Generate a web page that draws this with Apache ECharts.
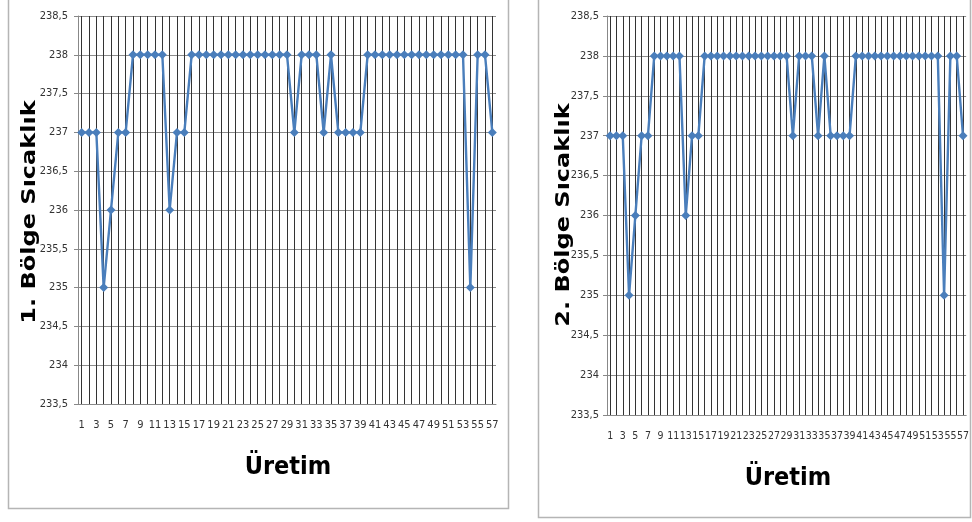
<!DOCTYPE html>
<html>
<head>
<meta charset="utf-8">
<script src="https://cdn.jsdelivr.net/npm/echarts@6/dist/echarts.min.js"></script>
<style>
html,body{margin:0;padding:0;background:#fff;}
#c{width:972px;height:522px;}
</style>
</head>
<body>
<div id="c"></div>
<script>
const categories = Array.from({length: 57}, (_, i) => String(i + 1));
const zone1Values = [237,237,237,235,236,237,237,238,238,238,238,238,236,237,237,238,238,238,238,238,238,238,238,238,238,238,238,238,238,237,238,238,238,237,238,237,237,237,237,238,238,238,238,238,238,238,238,238,238,238,238,238,238,235,238,238,237];
const zone2Values = [237,237,237,235,236,237,237,238,238,238,238,238,236,237,237,238,238,238,238,238,238,238,238,238,238,238,238,238,238,237,238,238,238,237,238,237,237,237,237,238,238,238,238,238,238,238,238,238,238,238,238,238,238,235,238,238,237];
const yTitles = ['1. Bölge Sıcaklık', '2. Bölge Sıcaklık'];
const xTitle = 'Üretim';

const narrow = '"Liberation Sans Narrow","DejaVu Sans Condensed",sans-serif';
const lineColor = '#4a7ebb';

function xAxis(gi, fs) {
  return {
    type: 'category', gridIndex: gi, data: categories, boundaryGap: true,
    axisLine: {lineStyle: {color: '#888', width: 1}},
    axisTick: {show: false, alignWithLabel: true},
    axisLabel: {interval: 1, color: '#333', fontFamily: narrow, fontSize: fs, margin: 16},
    splitLine: {show: true, interval: 0, alignWithLabel: true, lineStyle: {color: '#333', width: 1}}
  };
}
function yAxis(gi, margin) {
  return {
    type: 'value', gridIndex: gi, min: 233.5, max: 238.5, interval: 0.5,
    axisLine: {show: true, lineStyle: {color: '#888'}},
    axisTick: {show: true, length: 4, lineStyle: {color: '#888'}},
    axisLabel: {color: '#333', fontFamily: narrow, fontSize: 11, margin: margin,
      formatter: v => String(v).replace('.', ',')},
    splitLine: {show: true, lineStyle: {color: '#8c8c8c', width: 1}}
  };
}
function series(gi, data) {
  return {
    type: 'line', xAxisIndex: gi, yAxisIndex: gi, data: data,
    symbol: 'diamond', symbolSize: 9, showSymbol: true, showAllSymbol: true,
    lineStyle: {color: lineColor, width: 2.4},
    itemStyle: {color: lineColor},
    animation: false
  };
}

const chart = echarts.init(document.getElementById('c'));
chart.setOption({
  backgroundColor: '#fff',
  animation: false,
  grid: [
    {left: 78, top: 16, width: 418, height: 388},
    {left: 607, top: 16, width: 360, height: 399}
  ],
  xAxis: [xAxis(0, 11), xAxis(1, 10.5)],
  yAxis: [yAxis(0, 10), yAxis(1, 8)],
  series: [series(0, zone1Values), series(1, zone2Values)],
  graphic: [
    {type: 'rect', shape: {x: 8.5, y: -10, width: 500, height: 518.5}, style: {fill: 'none', stroke: '#b5b5b5', lineWidth: 1.5}, z: -1},
    {type: 'rect', shape: {x: 538.5, y: -10, width: 432, height: 527.5}, style: {fill: 'none', stroke: '#b5b5b5', lineWidth: 1.5}, z: -1},
    {type: 'text', x: 30, y: 212, rotation: Math.PI / 2, scaleX: 1.2,
      style: {text: yTitles[0], font: 'bold 20px "DejaVu Sans",sans-serif', fill: '#000', textAlign: 'center', textVerticalAlign: 'middle'}},
    {type: 'text', x: 564, y: 215, rotation: Math.PI / 2, scaleX: 1.2,
      style: {text: yTitles[1], font: 'bold 20px "DejaVu Sans",sans-serif', fill: '#000', textAlign: 'center', textVerticalAlign: 'middle'}},
    {type: 'text', x: 288, y: 467,
      style: {text: xTitle, font: 'bold 25px ' + narrow, fill: '#000', textAlign: 'center', textVerticalAlign: 'middle'}},
    {type: 'text', x: 788, y: 478,
      style: {text: xTitle, font: 'bold 25px ' + narrow, fill: '#000', textAlign: 'center', textVerticalAlign: 'middle'}}
  ]
});
</script>
</body>
</html>
